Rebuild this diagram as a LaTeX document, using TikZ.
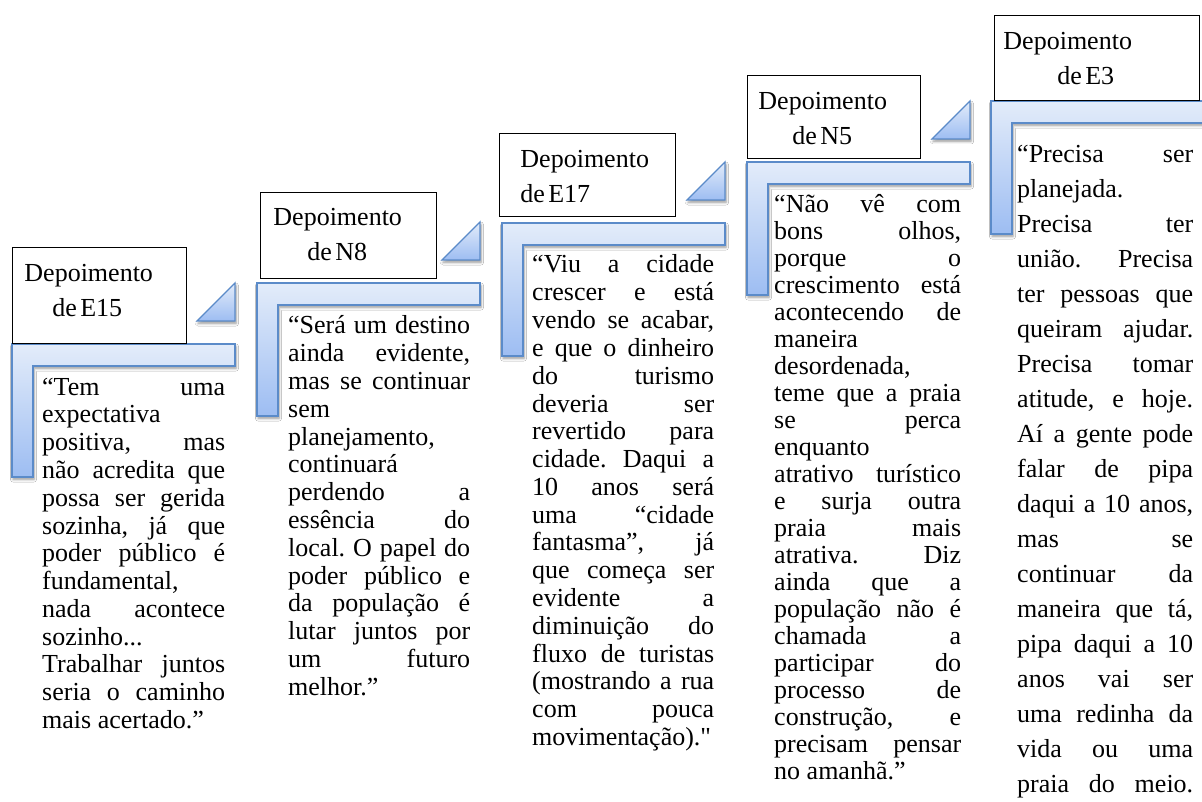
\documentclass[tikz,border=0pt]{standalone}
\usepackage{fontspec}
\setmainfont{Liberation Serif}
\font\plainq="Liberation Serif" at 26pt
\usetikzlibrary{shadows.blur}
\definecolor{bandlight}{HTML}{E3ECFA}
\definecolor{banddark}{HTML}{9DBDF2}
\definecolor{bandedge}{HTML}{5B8BC9}
\newcommand\qsetup{\tolerance=10000 \hbadness=10000 \hyphenpenalty=10000 \exhyphenpenalty=10000 \frenchspacing \leftskip=0pt \rightskip=0pt \spaceskip=\fontdimen2\font plus 1fill \xspaceskip=0pt \parfillskip=0pt plus 1filll }
\newcommand\qfont{\fontsize{26}{27.8}\selectfont\qsetup}
\newcommand\qfontn{\fontsize{26}{27}\selectfont\qsetup}
\newcommand\qfontw{\fontsize{26}{35}\selectfont\qsetup\parfillskip=0pt }
\newcommand\lfont{\fontsize{26}{35}\selectfont}
\tikzset{
  bandshape/.style={draw=bandedge, line width=1.3pt, top color=bandlight, bottom color=banddark,
    blur shadow={shadow xshift=1pt, shadow yshift=-2.5pt, shadow blur radius=2.5pt, shadow blur steps=6, shadow opacity=40}},
  labelbox/.style={draw=black, line width=0.9pt, fill=white, anchor=base west, inner ysep=0pt},
  quotetext/.style={anchor=base west, inner sep=0pt, text width=#1},
}
\begin{document}
\begin{tikzpicture}[x=1pt,y=-1pt]
\clip (0,0) rectangle (1202,802);
\fill[white] (0,0) rectangle (1202,802);
% triangles
\foreach \bx/\by in {12/344,257/283,502/223,747/162}{
  \path[bandshape] (\bx+185,\by-23) -- (\bx+223,\by-61) -- (\bx+223,\by-23) -- cycle;
}
% bent bands
\foreach \bx/\by in {12/344,257/283,502/223,747/162,991/101}{
  \path[bandshape] (\bx,\by) -- ++(223,0) -- ++(0,22) -- ++(-202,0) -- ++(0,111) -- ++(-21,0) -- cycle;
}
% label boxes
\node[labelbox, inner xsep=12pt, text width=150pt, text height=35pt, text depth=61pt] (lE15) at (12,282) {\lfont Depoimento\\\hspace*{28pt}de E15\par};
\node[labelbox, inner xsep=13pt, text width=150pt, text height=34pt, text depth=52pt] (lN8) at (260,226) {\lfont Depoimento\\\hspace*{34pt}de N8\par};
\node[labelbox, inner xsep=21pt, text width=134pt, text height=35pt, text depth=48pt] (lE17) at (499,168) {\lfont Depoimento\\de E17\par};
\node[labelbox, inner xsep=11pt, text width=151pt, text height=35pt, text depth=48pt] (lN5) at (747,110) {\lfont Depoimento\\\hspace*{34pt}de N5\par};
\node[labelbox, inner xsep=9pt, text width=187pt, text height=35pt, text depth=50pt] (lE3) at (994,50) {\lfont Depoimento\\\hspace*{54pt}de E3\par};
% quotes
\node[quotetext=183pt] (tE15) at (42,395) {\qfont “Tem uma\linebreak
expectativa\linebreak
positiva, mas\linebreak
não acredita que\linebreak
possa ser gerida\linebreak
sozinha, já que\linebreak
poder público é\linebreak
fundamental,\linebreak
nada acontece\linebreak
sozinho...\linebreak
Trabalhar juntos\linebreak
seria o caminho\linebreak
mais acertado.”\par};
\node[quotetext=182pt] (tN8) at (288,334) {\qfont “Será um destino\linebreak
ainda evidente,\linebreak
mas se continuar\linebreak
sem\linebreak
planejamento,\linebreak
continuará\linebreak
perdendo a\linebreak
essência do\linebreak
local. O papel do\linebreak
poder público e\linebreak
da população é\linebreak
lutar juntos por\linebreak
um futuro\linebreak
melhor.”\par};
\node[quotetext=182pt] (tE17) at (532,273) {\qfont “Viu a cidade\linebreak
crescer e está\linebreak
vendo se acabar,\linebreak
e que o dinheiro\linebreak
do turismo\linebreak
deveria ser\linebreak
revertido para\linebreak
cidade. Daqui a\linebreak
10 anos será\linebreak
uma “cidade\linebreak
fantasma”, já\linebreak
que começa ser\linebreak
evidente a\linebreak
diminuição do\linebreak
fluxo de turistas\linebreak
(mostrando a rua\linebreak
com pouca\linebreak
movimentação).{\plainq\char34}\par};
\node[quotetext=187pt] (tN5) at (774,213) {\qfontn “Não vê com\linebreak
bons olhos,\linebreak
porque o\linebreak
crescimento está\linebreak
acontecendo de\linebreak
maneira\linebreak
desordenada,\linebreak
teme que a praia\linebreak
se perca\linebreak
enquanto\linebreak
atrativo turístico\linebreak
e surja outra\linebreak
praia mais\linebreak
atrativa. Diz\linebreak
ainda que a\linebreak
população não é\linebreak
chamada a\linebreak
participar do\linebreak
processo de\linebreak
construção, e\linebreak
precisam pensar\linebreak
no amanhã.”\par};
\node[quotetext=176pt] (tE3) at (1017,163) {\qfontw “Precisa ser\linebreak
planejada.\linebreak
Precisa ter\linebreak
união. Precisa\linebreak
ter pessoas que\linebreak
queiram ajudar.\linebreak
Precisa tomar\linebreak
atitude, e hoje.\linebreak
Aí a gente pode\linebreak
falar de pipa\linebreak
daqui a 10 anos,\linebreak
mas se\linebreak
continuar da\linebreak
maneira que tá,\linebreak
pipa daqui a 10\linebreak
anos vai ser\linebreak
uma redinha da\linebreak
vida ou uma\linebreak
praia do meio.\par};
\end{tikzpicture}
\end{document}
